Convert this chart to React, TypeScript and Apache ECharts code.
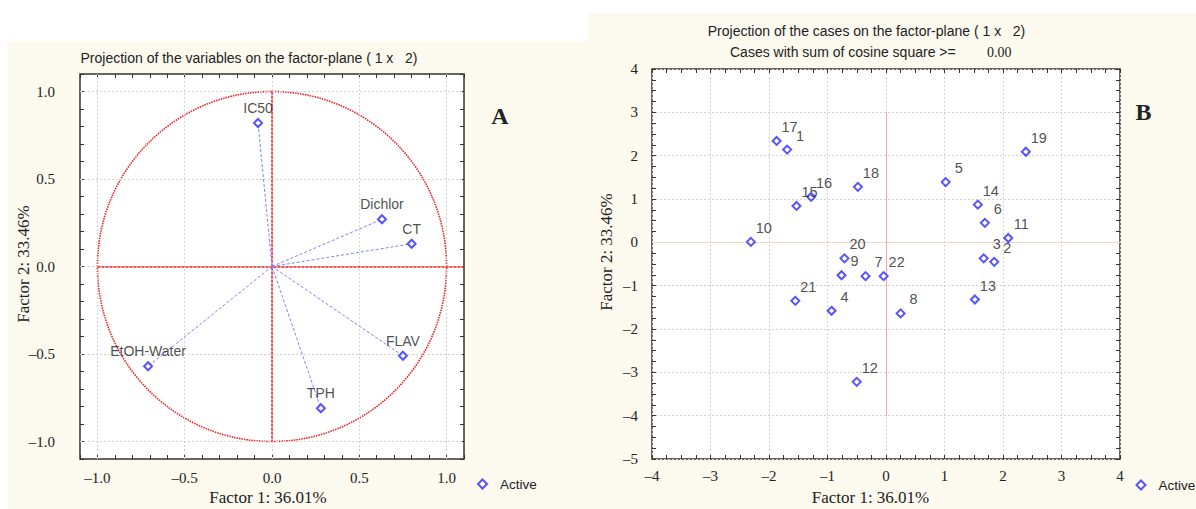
import React, { useEffect, useRef } from 'react';
import * as echarts from 'echarts';

// ---------- Panel A: variables ----------
const varNames = ['IC50', 'Dichlor', 'CT', 'FLAV', 'TPH', 'EtOH-Water'];
const varF1 = [-0.08, 0.63, 0.8, 0.75, 0.28, -0.71];
const varF2 = [0.82, 0.27, 0.13, -0.51, -0.81, -0.57];

// ---------- Panel B: cases ----------
const caseIds = ['1', '2', '3', '4', '5', '6', '7', '8', '9', '10', '11', '12', '13', '14', '15', '16', '17', '18', '19', '20', '21', '22'];
const caseF1 = [-1.69, 1.85, 1.67, -0.93, 1.02, 1.69, -0.35, 0.25, -0.76, -2.31, 2.09, -0.5, 1.52, 1.57, -1.53, -1.28, -1.87, -0.48, 2.39, -0.71, -1.55, -0.04];
const caseF2 = [2.14, -0.45, -0.37, -1.58, 1.39, 0.45, -0.78, -1.64, -0.76, 0.01, 0.1, -3.22, -1.32, 0.87, 0.84, 1.05, 2.34, 1.28, 2.09, -0.37, -1.35, -0.78];

// ---------- tick labels ----------
const aTickLabels = [-1, -0.5, 0, 0.5, 1];
const bXTicks = [-4, -3, -2, -1, 0, 1, 2, 3, 4];
const bYTicks = [-5, -4, -3, -2, -1, 0, 1, 2, 3, 4];

const SERIF = "'Liberation Serif', 'Times New Roman', serif";
const SANS = "'Liberation Sans', Arial, sans-serif";
const TXT = '#222';

const fmt1 = (v: number) => (v < 0 ? '\u2013' : '') + Math.abs(v).toFixed(1);
const fmt0 = (v: number) => (v < 0 ? '\u2013' : '') + String(Math.abs(v));

const aMinor = Array.from({ length: 23 }, (_, i) => Math.round((-1.1 + i * 0.1) * 10) / 10);

const tick = { show: true, inside: true, length: 4, lineStyle: { color: '#333', width: 1 } };
const minor = { show: true, splitNumber: 4, length: 4, lineStyle: { color: '#333', width: 1 } };
const gridLine = { color: '#d2d2d2', width: 1, type: [2, 2] as number[] };
const noLine = { show: false, onZero: false };

function buildOption() {
  const aScatter = varNames.map((n, i) => ({ name: n, value: [varF1[i], varF2[i]] }));
  const bScatter = caseIds.map((n, i) => ({ name: n, value: [caseF1[i], caseF2[i]] }));

  const centerText = (text: string, x: number, y: number, font: string, extra: any = {}) => ({
    type: 'text', x, y, silent: true, ...extra,
    style: { text, font, fill: TXT, align: 'center', verticalAlign: 'middle', textAlign: 'center', textVerticalAlign: 'middle' },
  });
  const leftText = (text: string, x: number, y: number, font: string) => ({
    type: 'text', x, y, silent: true,
    style: { text, font, fill: TXT, align: 'left', verticalAlign: 'middle', textAlign: 'left', textVerticalAlign: 'middle' },
  });

  return {
    animation: false,
    backgroundColor: '#ffffff',
    grid: [
      { left: 80, top: 74, width: 384, height: 385, show: true, backgroundColor: '#ffffff', borderColor: '#333', borderWidth: 1.5, z: 0 },
      { left: 652, top: 69, width: 468, height: 390, show: true, backgroundColor: '#ffffff', borderColor: '#333', borderWidth: 1.5, z: 0 },
    ],
    xAxis: [
      {
        gridIndex: 0, type: 'value', min: -1.1, max: 1.1, position: 'bottom',
        axisLine: noLine,
        axisTick: { ...tick, customValues: aMinor },
        axisLabel: { customValues: aTickLabels, formatter: fmt1, fontFamily: SERIF, fontSize: 15, color: TXT, margin: 11 },
        splitLine: { show: false },
      },
      {
        gridIndex: 0, type: 'value', min: -1.1, max: 1.1, position: 'top',
        axisLine: noLine,
        axisTick: { ...tick, customValues: aMinor },
        axisLabel: { show: false },
        splitLine: { show: false },
      },
      {
        gridIndex: 1, type: 'value', min: -4, max: 4, interval: 1, position: 'bottom',
        axisLine: noLine,
        axisTick: tick, minorTick: minor,
        axisLabel: { customValues: bXTicks, formatter: fmt0, fontFamily: SERIF, fontSize: 15, color: TXT, margin: 9 },
        splitLine: { show: true, lineStyle: gridLine },
      },
      {
        gridIndex: 1, type: 'value', min: -4, max: 4, interval: 1, position: 'top',
        axisLine: noLine,
        axisTick: tick, minorTick: minor,
        axisLabel: { show: false },
        splitLine: { show: false },
      },
    ],
    yAxis: [
      {
        gridIndex: 0, type: 'value', min: -1.1, max: 1.1, position: 'left',
        axisLine: noLine,
        axisTick: { ...tick, customValues: aMinor },
        axisLabel: { customValues: aTickLabels, formatter: fmt1, fontFamily: SERIF, fontSize: 15, color: TXT, margin: 25 },
        splitLine: { show: false },
      },
      {
        gridIndex: 0, type: 'value', min: -1.1, max: 1.1, position: 'right',
        axisLine: noLine,
        axisTick: { ...tick, customValues: aMinor },
        axisLabel: { show: false },
        splitLine: { show: false },
      },
      {
        gridIndex: 1, type: 'value', min: -5, max: 4, interval: 1, position: 'left',
        axisLine: noLine,
        axisTick: tick, minorTick: minor,
        axisLabel: { customValues: bYTicks, formatter: fmt0, fontFamily: SERIF, fontSize: 15, color: TXT, margin: 14 },
        splitLine: { show: true, lineStyle: gridLine },
      },
      {
        gridIndex: 1, type: 'value', min: -5, max: 4, interval: 1, position: 'right',
        axisLine: noLine,
        axisTick: tick, minorTick: minor,
        axisLabel: { show: false },
        splitLine: { show: false },
      },
    ],
    legend: [
      {
        left: 477, top: 477, padding: 0, itemWidth: 9, itemHeight: 9,
        data: [{ name: 'Active', icon: 'emptyDiamond' }],
        textStyle: { fontFamily: SANS, fontSize: 13.5, color: TXT, padding: [0, 0, 0, 8] },
        selectedMode: false,
      },
      {
        left: 1135.5, top: 478, padding: 0, itemWidth: 9, itemHeight: 9,
        data: [{ name: 'Active', icon: 'emptyDiamond' }],
        textStyle: { fontFamily: SANS, fontSize: 13.5, color: TXT, padding: [0, 0, 0, 8] },
        selectedMode: false,
      },
    ],
    graphic: [
      { type: 'rect', z: -100, silent: true, shape: { x: 8, y: 41, width: 580, height: 468 }, style: { fill: '#fcf9ef' } },
      { type: 'rect', z: -100, silent: true, shape: { x: 588, y: 13, width: 608, height: 496 }, style: { fill: '#fcf9ef' } },
      centerText('Projection of the variables on the factor-plane (\u00a01\u00a0x\u00a0\u00a0\u00a02)', 249, 58, `14px ${SANS}`),
      centerText('Projection of the cases on the factor-plane (\u00a01\u00a0x\u00a0\u00a0\u00a02)', 866.5, 31, `14px ${SANS}`),
      leftText('Cases with sum of cosine square >=', 730, 52, `14px ${SANS}`),
      leftText('0.00', 987, 52, `14px ${SERIF}`),
      centerText('Factor 1: 36.01%', 268, 497, `17px ${SERIF}`),
      centerText('Factor 2: 33.46%', 23, 264, `17px ${SERIF}`, { rotation: Math.PI / 2 }),
      centerText('Factor 1: 36.01%', 870.5, 497, `17px ${SERIF}`),
      centerText('Factor 2: 33.46%', 606, 252, `17px ${SERIF}`, { rotation: Math.PI / 2 }),
      centerText('A', 500, 116, `bold 24px ${SERIF}`),
      centerText('B', 1143.5, 112, `bold 24px ${SERIF}`),
    ],
    series: [
      // ---- Panel A gridlines ----
      {
        type: 'scatter', xAxisIndex: 0, yAxisIndex: 0, data: [], silent: true, z: 1,
        markLine: {
          silent: true, symbol: ['none', 'none'], label: { show: false }, lineStyle: gridLine,
          data: [...aTickLabels.map((v) => ({ xAxis: v })), ...aTickLabels.map((v) => ({ yAxis: v }))],
        },
      },
      // ---- Panel A unit circle ----
      {
        type: 'custom', xAxisIndex: 0, yAxisIndex: 0, silent: true, z: 2,
        data: [[0, 0, 1]],
        renderItem: (_p: any, api: any) => {
          const c = api.coord([api.value(0), api.value(1)]);
          const r = api.value(2);
          const ex = api.coord([api.value(0) + r, api.value(1)]);
          const ey = api.coord([api.value(0), api.value(1) + r]);
          return {
            type: 'ellipse',
            shape: { cx: c[0], cy: c[1], rx: ex[0] - c[0], ry: c[1] - ey[1] },
            style: { fill: 'none', stroke: '#ee2222', lineWidth: 1.6, lineDash: [1.5, 1] },
          };
        },
      },
      // ---- Panel A red axes ----
      {
        type: 'scatter', xAxisIndex: 0, yAxisIndex: 0, data: [], silent: true, z: 2,
        markLine: {
          silent: true, symbol: ['none', 'none'], label: { show: false },
          lineStyle: { color: '#ee2222', width: 1.5, type: [3, 1] },
          data: [
            [{ coord: [-1, 0] }, { coord: [1.1, 0] }],
            [{ coord: [0, 1] }, { coord: [0, -1] }],
          ],
        },
      },
      // ---- Panel A vectors ----
      {
        type: 'scatter', xAxisIndex: 0, yAxisIndex: 0, data: [], silent: true, z: 3,
        markLine: {
          silent: true, symbol: ['none', 'none'], label: { show: false },
          lineStyle: { color: '#8080ff', width: 1, type: [3, 2] },
          data: varNames.map((_, i) => [{ coord: [0, 0] }, { coord: [varF1[i], varF2[i]] }]),
        },
      },
      // ---- Panel A points ----
      {
        name: 'Active', type: 'scatter', xAxisIndex: 0, yAxisIndex: 0, z: 5,
        symbol: 'emptyDiamond', symbolSize: 8,
        itemStyle: { color: '#2b2bff', borderWidth: 1.4 },
        label: { show: true, position: 'top', distance: 3, formatter: '{b}', fontFamily: SANS, fontSize: 14, color: TXT },
        data: aScatter,
      },
      // ---- Panel B reference lines ----
      {
        type: 'scatter', xAxisIndex: 2, yAxisIndex: 2, data: [], silent: true, z: 2,
        markLine: {
          silent: true, symbol: ['none', 'none'], label: { show: false },
          data: [
            { yAxis: 0, lineStyle: { color: '#f4d2d2', width: 1, type: 'solid' } },
            [{ coord: [0, 3], lineStyle: { color: '#f4a8a8', width: 1, type: 'solid' } }, { coord: [0, -4] }],
          ],
        },
      },
      // ---- Panel B points ----
      {
        name: 'Active', type: 'scatter', xAxisIndex: 2, yAxisIndex: 2, z: 5,
        symbol: 'emptyDiamond', symbolSize: 8,
        itemStyle: { color: '#2b2bff', borderWidth: 1.4 },
        label: {
          show: true, position: [18, -9], align: 'center', verticalAlign: 'middle',
          formatter: '{b}', fontFamily: SANS, fontSize: 14.5, color: TXT,
        },
        data: bScatter,
      },
    ],
  };
}

export default function App() {
  const ref = useRef<HTMLDivElement>(null);
  useEffect(() => {
    if (!ref.current) return;
    const chart = echarts.init(ref.current, null, { renderer: 'svg' });
    chart.setOption(buildOption() as any);
    return () => chart.dispose();
  }, []);
  return (
    <div
      ref={ref}
      style={{ position: 'absolute', left: 0, top: 0, width: 1196, height: 509, background: '#ffffff' }}
    />
  );
}
